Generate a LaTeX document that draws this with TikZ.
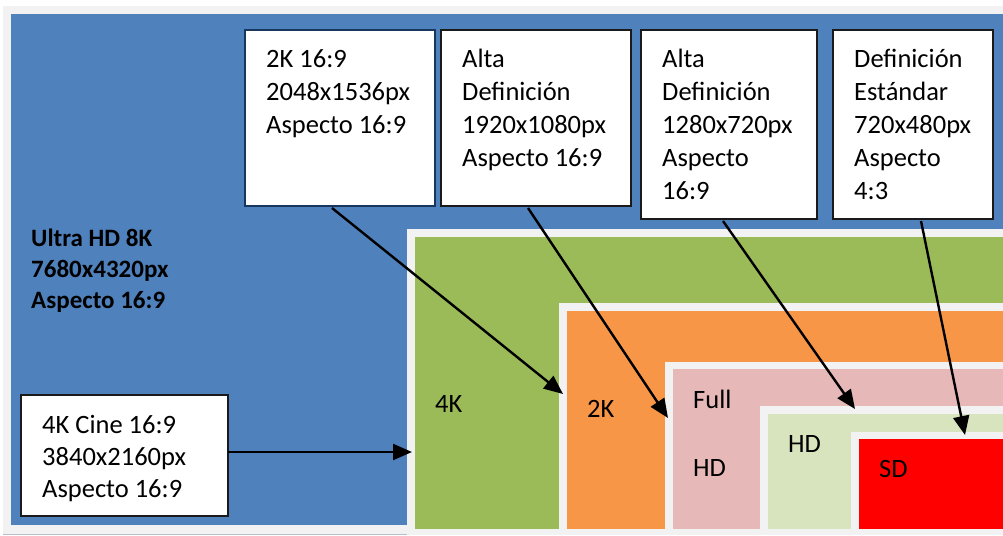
\documentclass[tikz,border=0pt]{standalone}
\usepackage{fontspec}
\setmainfont{Carlito}
\usetikzlibrary{arrows.meta}
\definecolor{bgray}{HTML}{F2F2F2}
\definecolor{c8k}{HTML}{4F81BD}
\definecolor{c4k}{HTML}{9BBB59}
\definecolor{c2k}{HTML}{F79646}
\definecolor{cfhd}{HTML}{E6B9B8}
\definecolor{chd}{HTML}{D7E4BD}
\definecolor{csd}{HTML}{FF0000}
\definecolor{navy}{HTML}{17375E}
\definecolor{dark}{HTML}{1A1A1A}
\definecolor{edge}{HTML}{B4C0D0}
\newcommand\mytxt[1]{\parbox[t]{300pt}{#1}}
\tikzset{
  panel/.style={draw=dark, line width=2pt, fill=white, inner sep=0pt, outer sep=0pt, anchor=north west},
  lbl/.style={anchor=base west, inner sep=0pt, font=\fontsize{26.5}{33}\selectfont},
  arr/.style={line width=2.4pt, draw=black, -{Triangle[length=19pt,width=16pt]}}
}
\begin{document}
\begin{tikzpicture}[x=1pt,y=-1pt]
\useasboundingbox (0,0) rectangle (1003,535);
\fill[white] (0,0) rectangle (1003,535);
\fill[bgray] (3,6) rectangle (1003,535);
% nested resolution areas
\fill[c8k] (11,14) rectangle (1003,525);
\draw[edge, line width=1pt] (3,534) -- (407,534);
\fill[bgray] (407,229) rectangle (1003,535);
\fill[c4k] (415,237) rectangle (1003,529);
\fill[bgray] (559,303) rectangle (1003,529);
\fill[c2k] (567,311) rectangle (1003,529);
\fill[bgray] (665,362) rectangle (1003,529);
\fill[cfhd] (673,369) rectangle (1003,529);
\fill[bgray] (760,406) rectangle (1003,529);
\fill[chd] (768,414) rectangle (1003,529);
\fill[bgray] (851,432) rectangle (1003,529);
\fill[csd] (859,439) rectangle (1003,529);
% labels inside areas
\node[lbl, font=\fontsize{25}{31}\selectfont\bfseries] (t8k) at (31,246) {\mytxt{Ultra HD 8K\\7680x4320px\\Aspecto 16:9}};
\node[lbl] (l4k) at (435,412) {4K};
\node[lbl] (l2k) at (587,417) {2K};
\node[lbl] (lfull) at (693,408) {Full};
\node[lbl] (lfhd) at (693,476) {HD};
\node[lbl] (lhd) at (788,452) {HD};
\node[lbl] (lsd) at (879,477) {SD};
% description boxes
\node[panel, draw=navy, minimum width=190pt, minimum height=176pt] (A) at (245,30) {};
\node[panel, minimum width=190pt, minimum height=176pt] (B) at (441,30) {};
\node[panel, minimum width=176pt, minimum height=189pt] (C) at (641,30) {};
\node[panel, minimum width=160pt, minimum height=189pt] (D) at (833,30) {};
\node[panel, minimum width=207pt, minimum height=121pt] (E) at (21,395) {};
\node[lbl] (tA) at (266,67) {\mytxt{2K 16:9\\2048x1536px\\Aspecto 16:9}};
\node[lbl] (tB) at (462,67) {\mytxt{Alta\\Definición\\1920x1080px\\Aspecto 16:9}};
\node[lbl] (tC) at (662,67) {\mytxt{Alta\\Definición\\1280x720px\\Aspecto\\16:9}};
\node[lbl] (tD) at (854,67) {\mytxt{Definición\\Estándar\\720x480px\\Aspecto\\4:3}};
\node[lbl, font=\fontsize{26.5}{32}\selectfont] (tE) at (42,433) {\mytxt{4K Cine 16:9\\3840x2160px\\Aspecto 16:9}};
% arrow targets
\coordinate (pE) at (412,452);
\coordinate (pA) at (563,394);
\coordinate (pB) at (668,418);
\coordinate (pC) at (855,409);
\coordinate (pD) at (965,435);
\draw[arr] ([yshift=3.5pt]E.east) -- (pE);
\draw[arr] ([xshift=-8pt,yshift=-2pt]A.south) -- (pA);
\draw[arr] ([xshift=-8pt,yshift=-2pt]B.south) -- (pB);
\draw[arr] ([xshift=-6pt,yshift=-2pt]C.south) -- (pC);
\draw[arr] ([xshift=8pt,yshift=-2pt]D.south) -- (pD);
\end{tikzpicture}
\end{document}
